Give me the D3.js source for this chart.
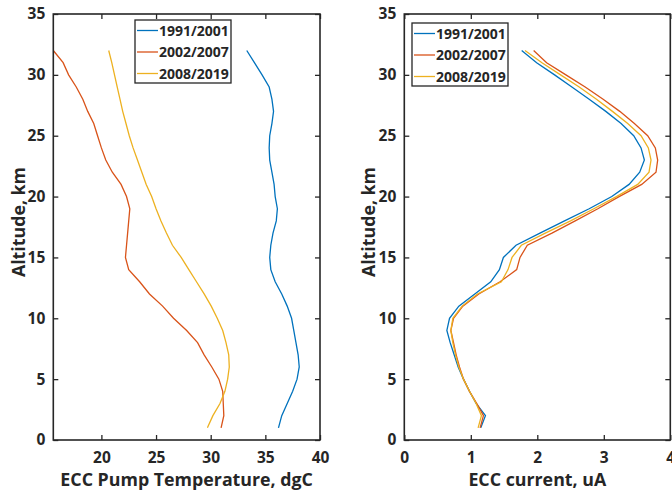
<!DOCTYPE html>
<html>
<head>
<meta charset="utf-8">
<script src="https://cdn.jsdelivr.net/npm/d3@7"></script>
<style>
  html, body { margin: 0; padding: 0; background: #fff; }
  svg { display: block; }
  text { font-family: "Open Sans", "Noto Sans", sans-serif; font-weight: bold; fill: #262626; }
</style>
</head>
<body>
<svg id="chart" width="672" height="493"></svg>
<script>
// ---- data ----
const altitudes = [1,2,3,4,5,6,7,8,9,10,11,12,13,14,15,16,17,18,19,20,21,22,23,24,25,26,27,28,29,30,31,32];
const seriesNames = ["1991/2001", "2002/2007", "2008/2019"];
const seriesColors = ["#0072BD", "#D95319", "#EDB120"];

const tempBlue   = [36.2,36.5,37.0,37.5,37.9,38.1,38.0,37.8,37.6,37.4,37.0,36.5,35.9,35.5,35.4,35.5,35.7,36.0,36.1,35.9,35.8,35.6,35.4,35.35,35.4,35.6,35.75,35.6,35.35,34.7,34.0,33.3];
const tempRed    = [30.95,31.2,31.15,31.1,30.75,30.1,29.4,28.8,27.8,26.6,25.6,24.4,23.5,22.5,22.2,22.3,22.4,22.5,22.6,22.3,21.8,21.0,20.4,20.0,19.65,19.3,18.75,18.3,17.7,17.0,16.5,15.6];
const tempYellow = [29.7,30.2,30.85,31.3,31.55,31.7,31.65,31.4,31.1,30.6,30.05,29.4,28.7,28.0,27.3,26.5,25.95,25.45,25.0,24.6,24.1,23.7,23.3,22.9,22.55,22.25,21.95,21.7,21.45,21.2,20.95,20.67];

const curBlue   = [1.15,1.22,1.08,0.98,0.89,0.81,0.75,0.69,0.64,0.68,0.82,1.06,1.30,1.43,1.49,1.68,2.04,2.41,2.78,3.12,3.38,3.54,3.61,3.56,3.45,3.26,3.03,2.78,2.52,2.26,1.99,1.765];
const curRed    = [1.14,1.19,1.09,0.98,0.89,0.83,0.78,0.74,0.70,0.74,0.88,1.12,1.44,1.69,1.74,1.85,2.22,2.57,2.91,3.23,3.57,3.785,3.81,3.775,3.66,3.46,3.24,2.99,2.72,2.43,2.14,1.945];
const curYellow = [1.11,1.16,1.08,0.98,0.89,0.82,0.77,0.73,0.70,0.73,0.87,1.10,1.46,1.56,1.62,1.76,2.12,2.50,2.85,3.19,3.51,3.68,3.71,3.67,3.56,3.36,3.13,2.89,2.63,2.35,2.07,1.815];

const yTicks = [0,5,10,15,20,25,30,35];
const tempTicks = [20,25,30,35,40];
const curTicks = [0,1,2,3,4];

const tempLabel = "ECC Pump Temperature, dgC";
const curLabel = "ECC current, uA";
const yLabel = "Altitude, km";

// ---- drawing ----
const svg = d3.select("#chart");
const axisColor = "#262626";

function panel(opts) {
  const x = d3.scaleLinear().domain(opts.xDomain).range(opts.xRange);
  const y = d3.scaleLinear().domain([0, 35]).range([440, 14]);
  const g = svg.append("g");

  const tickLen = 5;
  const bottom = g.append("g").attr("transform", `translate(0,${y(0)})`)
    .call(d3.axisBottom(x).tickValues(opts.xTicks).tickSizeInner(-tickLen).tickSizeOuter(0).tickPadding(12).tickFormat(d3.format("d")));
  const top = g.append("g").attr("transform", `translate(0,${y(35)})`)
    .call(d3.axisTop(x).tickValues(opts.xTicks).tickSizeInner(-tickLen).tickSizeOuter(0).tickFormat(""));
  const left = g.append("g").attr("transform", `translate(${opts.xRange[0]},0)`)
    .call(d3.axisLeft(y).tickValues(yTicks).tickSizeInner(-tickLen).tickSizeOuter(0).tickPadding(8).tickFormat(d3.format("d")));
  const right = g.append("g").attr("transform", `translate(${opts.xRange[1]},0)`)
    .call(d3.axisRight(y).tickValues(yTicks).tickSizeInner(-tickLen).tickSizeOuter(0).tickFormat(""));

  [bottom, top, left, right].forEach(a => {
    a.select(".domain").remove();
    a.selectAll(".tick line").attr("stroke", axisColor).attr("stroke-width", 1.3);
    a.selectAll(".tick text").attr("font-size", 15.5).attr("font-family", null).attr("fill", axisColor);
  });

  const line = d3.line().x(d => x(d[0])).y(d => y(d[1]));
  opts.series.forEach((s, i) => {
    g.append("path")
      .datum(s.map((v, k) => [v, altitudes[k]]))
      .attr("fill", "none")
      .attr("stroke", seriesColors[i])
      .attr("stroke-width", 1.3)
      .attr("d", line);
  });

  g.append("rect")
    .attr("x", opts.xRange[0]).attr("y", y(35))
    .attr("width", opts.xRange[1] - opts.xRange[0]).attr("height", y(0) - y(35))
    .attr("fill", "none").attr("stroke", axisColor).attr("stroke-width", 1.6);

  const lg = g.append("g").attr("transform", `translate(${opts.legend[0]},${opts.legend[1]})`);
  lg.append("rect").attr("x", 0).attr("y", 0).attr("width", 96).attr("height", 63)
    .attr("fill", "#fff").attr("stroke", axisColor).attr("stroke-width", 1.3);
  seriesNames.forEach((n, i) => {
    const cy = 10.5 + i * 21.5;
    lg.append("line").attr("x1", 2).attr("x2", 23).attr("y1", cy).attr("y2", cy)
      .attr("stroke", seriesColors[i]).attr("stroke-width", 1.3);
    lg.append("text").attr("x", 24).attr("y", cy).attr("dy", "0.36em")
      .attr("font-size", 14).text(n);
  });

  g.append("text").attr("x", (opts.xRange[0] + opts.xRange[1]) / 2).attr("y", 486)
    .attr("text-anchor", "middle").attr("font-size", 17.8).text(opts.xLabel);
  g.append("text").attr("transform", `translate(${opts.yLabelX},222) rotate(-90)`)
    .attr("text-anchor", "middle").attr("font-size", 17.8).text(yLabel);
}

panel({
  xDomain: [d3.min(tempRed), 40], xRange: [53.3, 320], xTicks: tempTicks,
  series: [tempBlue, tempRed, tempYellow], xLabel: tempLabel,
  legend: [135, 20], yLabelX: 25
});
panel({
  xDomain: [0, 4], xRange: [404.3, 670.3], xTicks: curTicks,
  series: [curBlue, curRed, curYellow], xLabel: curLabel,
  legend: [412, 23], yLabelX: 375
});
</script>
</body>
</html>
